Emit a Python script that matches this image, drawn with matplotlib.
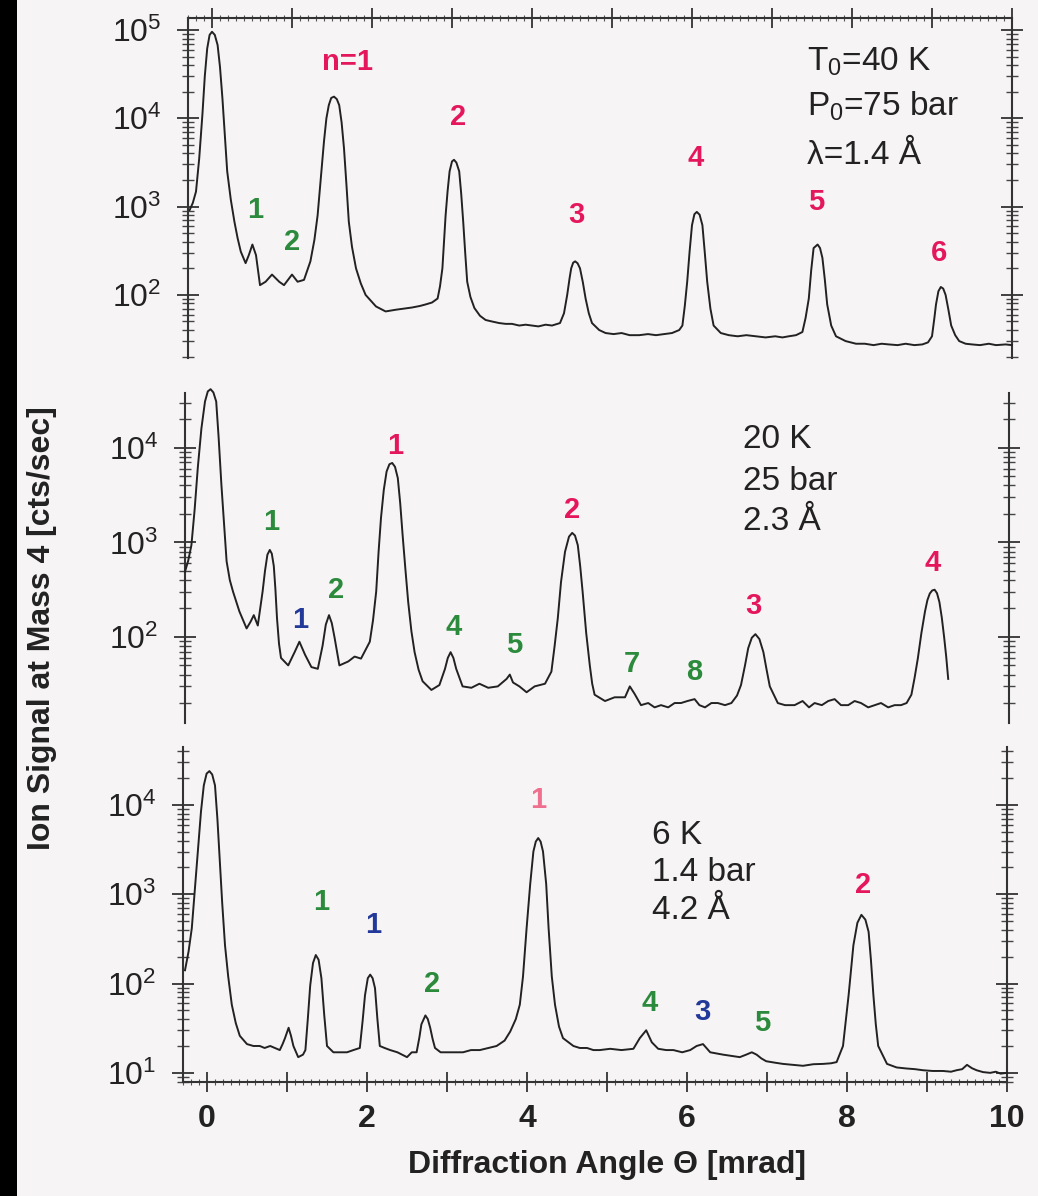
import matplotlib
matplotlib.use("Agg")
import matplotlib.pyplot as plt
import numpy as np
from matplotlib.ticker import LogLocator, NullFormatter, MultipleLocator, FuncFormatter
from matplotlib.patches import Rectangle

plt.rcParams['font.family'] = ['Liberation Sans', 'DejaVu Sans']
plt.rcParams['mathtext.fontset'] = 'custom'
plt.rcParams['mathtext.rm'] = 'Liberation Sans'
plt.rcParams['mathtext.it'] = 'Liberation Sans:italic'
plt.rcParams['mathtext.bf'] = 'Liberation Sans:bold'

# ---- data: (angle [mrad], signal [cts/sec]) ----
top_points = [
    (-0.28, 912), (-0.24, 1100), (-0.20, 1480), (-0.16, 3500), (-0.12, 11000),
    (-0.09, 30000), (-0.06, 61700), (-0.03, 88000), (0.0, 95500), (0.035, 88000),
    (0.07, 67600), (0.10, 38000), (0.13, 17000), (0.16, 6500), (0.19, 2510),
    (0.235, 1200), (0.28, 676), (0.32, 440), (0.36, 309), (0.42, 229),
    (0.46, 282), (0.505, 372), (0.55, 282), (0.60, 129), (0.67, 141),
    (0.75, 170), (0.84, 141), (0.90, 129), (1.00, 170), (1.07, 141),
    (1.15, 148), (1.23, 240), (1.28, 420), (1.32, 794), (1.36, 2100),
    (1.40, 5500), (1.43, 10000), (1.46, 14100), (1.49, 17000), (1.525, 17600),
    (1.56, 16500), (1.59, 14100), (1.62, 9000), (1.65, 4570), (1.68, 1800),
    (1.71, 676), (1.75, 350), (1.80, 200), (1.86, 135), (1.92, 100), (2.05, 74),
    (2.17, 65), (2.30, 68), (2.40, 70), (2.50, 72), (2.60, 75), (2.67, 78),
    (2.75, 82), (2.82, 91), (2.85, 125), (2.88, 200), (2.90, 400), (2.92, 794),
    (2.945, 1500), (2.97, 2510), (3.00, 3250), (3.025, 3390), (3.055, 3150),
    (3.09, 2510), (3.115, 1400), (3.14, 676), (3.165, 300), (3.19, 141),
    (3.23, 95), (3.28, 71), (3.35, 58), (3.42, 52), (3.50, 50), (3.59, 48),
    (3.67, 47), (3.75, 47), (3.84, 45), (3.92, 46), (4.0, 45), (4.08, 44),
    (4.17, 46), (4.25, 45), (4.35, 48), (4.40, 62), (4.44, 100), (4.47, 155),
    (4.49, 200), (4.515, 232), (4.54, 240), (4.57, 228), (4.60, 200),
    (4.635, 140), (4.67, 91), (4.71, 62), (4.75, 48), (4.84, 40), (4.92, 37),
    (5.02, 36), (5.12, 37), (5.22, 35), (5.34, 35), (5.45, 36), (5.55, 35),
    (5.65, 36), (5.75, 37), (5.84, 40), (5.88, 45), (5.91, 75), (5.94, 141),
    (5.97, 310), (6.0, 617), (6.03, 820), (6.06, 871), (6.095, 810),
    (6.13, 617), (6.16, 300), (6.19, 141), (6.23, 70), (6.27, 45), (6.36, 37),
    (6.46, 35), (6.57, 34), (6.68, 35), (6.80, 34), (6.92, 33), (7.04, 34),
    (7.13, 33), (7.21, 34), (7.30, 35), (7.38, 38), (7.42, 55), (7.46, 91),
    (7.49, 190), (7.52, 339), (7.57, 372), (7.60, 340), (7.63, 263),
    (7.66, 150), (7.69, 78), (7.74, 45), (7.80, 34), (7.92, 30), (8.05, 28),
    (8.16, 28), (8.27, 27), (8.37, 28), (8.46, 27.5), (8.57, 27), (8.67, 28),
    (8.78, 27), (8.88, 27.5), (8.95, 29), (9.0, 34), (9.03, 55), (9.05, 78),
    (9.08, 110), (9.11, 123), (9.14, 118), (9.17, 100), (9.205, 68), (9.24, 45),
    (9.29, 35), (9.34, 30), (9.42, 28), (9.50, 27.5), (9.60, 27), (9.71, 28),
    (9.80, 27), (9.92, 27.5), (10.0, 27),
]

mid_points = [
    (-0.30, 490), (-0.26, 640), (-0.22, 933), (-0.18, 2200), (-0.14, 6170),
    (-0.095, 16000), (-0.05, 30900), (-0.015, 39500), (0.02, 41700),
    (0.055, 38500), (0.09, 30900), (0.12, 13000), (0.155, 4070), (0.19, 1500),
    (0.22, 631), (0.26, 400), (0.30, 302), (0.38, 186), (0.47, 123),
    (0.52, 145), (0.56, 170), (0.61, 132), (0.67, 302), (0.70, 500),
    (0.73, 741), (0.76, 832), (0.785, 760), (0.81, 562), (0.83, 320),
    (0.85, 158), (0.875, 85), (0.90, 60), (0.99, 50), (1.07, 69), (1.13, 89),
    (1.20, 65), (1.28, 48), (1.36, 46), (1.42, 81), (1.46, 135), (1.50, 170),
    (1.535, 140), (1.57, 98), (1.63, 50), (1.74, 55), (1.82, 62), (1.90, 59),
    (2.01, 89), (2.05, 150), (2.09, 302), (2.12, 800), (2.15, 1820),
    (2.185, 3600), (2.22, 5620), (2.255, 6700), (2.29, 6920), (2.325, 6300),
    (2.36, 4790), (2.39, 2600), (2.42, 1200), (2.455, 520), (2.49, 234),
    (2.53, 115), (2.57, 69), (2.62, 45), (2.67, 34), (2.78, 27.5), (2.88, 31),
    (2.95, 46), (2.985, 60), (3.02, 69), (3.055, 60), (3.09, 46), (3.17, 30),
    (3.28, 29), (3.38, 32), (3.49, 29), (3.61, 30), (3.72, 36), (3.76, 40),
    (3.80, 33), (3.88, 30), (3.97, 26), (4.07, 30), (4.20, 32), (4.28, 43),
    (4.32, 80), (4.36, 158), (4.40, 380), (4.45, 794), (4.50, 1150),
    (4.54, 1260), (4.575, 1180), (4.61, 933), (4.64, 560), (4.67, 302),
    (4.715, 110), (4.76, 50), (4.79, 32), (4.82, 24.5), (4.95, 21), (5.07, 23),
    (5.20, 23), (5.26, 30), (5.32, 25), (5.40, 19), (5.49, 20), (5.57, 18),
    (5.65, 19), (5.74, 18), (5.82, 20), (5.90, 20), (5.98, 21), (6.07, 22),
    (6.13, 19), (6.20, 18), (6.28, 20), (6.36, 20), (6.45, 19), (6.53, 20),
    (6.60, 24), (6.65, 31), (6.70, 50), (6.74, 76), (6.785, 98), (6.83, 107),
    (6.88, 95), (6.93, 69), (6.97, 45), (7.01, 30), (7.11, 20), (7.20, 19),
    (7.32, 19), (7.42, 21), (7.50, 18), (7.57, 20), (7.66, 19), (7.74, 21),
    (7.82, 22), (7.90, 19), (7.99, 19), (8.07, 21), (8.15, 20), (8.24, 18),
    (8.32, 19), (8.40, 20), (8.49, 18), (8.57, 19), (8.65, 19), (8.72, 20),
    (8.78, 24.5), (8.82, 37), (8.86, 59), (8.905, 110), (8.95, 186),
    (8.98, 245), (9.01, 288), (9.04, 310), (9.07, 316), (9.10, 290),
    (9.13, 234), (9.16, 160), (9.19, 98), (9.215, 62), (9.24, 36),
]

bot_points = [
    (-0.275, 141), (-0.23, 230), (-0.19, 417), (-0.15, 1200), (-0.11, 3550),
    (-0.075, 8500), (-0.04, 16600), (-0.005, 22500), (0.03, 24000),
    (0.065, 22000), (0.10, 16600), (0.13, 7000), (0.16, 2340), (0.19, 800),
    (0.225, 269), (0.265, 120), (0.31, 58), (0.36, 36), (0.41, 26), (0.50, 21),
    (0.58, 20), (0.66, 20), (0.72, 19), (0.79, 20), (0.85, 19), (0.91, 18),
    (0.945, 21), (0.975, 24.5), (1.02, 32), (1.05, 26), (1.08, 20), (1.14, 15),
    (1.20, 16), (1.23, 18), (1.26, 40), (1.29, 95), (1.325, 170), (1.36, 209),
    (1.395, 185), (1.43, 115), (1.465, 45), (1.50, 20), (1.58, 17), (1.66, 17),
    (1.75, 17), (1.83, 18), (1.91, 19), (1.945, 38), (1.975, 74), (2.01, 115),
    (2.04, 126), (2.07, 115), (2.10, 89), (2.13, 40), (2.16, 20), (2.22, 19),
    (2.29, 18), (2.38, 17), (2.50, 15), (2.56, 17), (2.62, 17), (2.655, 25),
    (2.68, 35), (2.73, 44), (2.76, 40), (2.79, 32), (2.82, 24), (2.85, 19),
    (2.92, 17), (2.99, 17), (3.10, 17), (3.20, 17), (3.30, 18), (3.41, 18),
    (3.52, 19), (3.62, 20), (3.72, 23), (3.79, 29), (3.86, 40), (3.91, 58),
    (3.95, 120), (3.995, 417), (4.04, 1300), (4.08, 3020), (4.11, 3900),
    (4.14, 4270), (4.17, 3900), (4.20, 3020), (4.24, 1300), (4.27, 417),
    (4.31, 120), (4.35, 58), (4.40, 33), (4.45, 24.5), (4.58, 20), (4.66, 19),
    (4.75, 19), (4.83, 18), (4.91, 18), (5.04, 18.6), (5.18, 18), (5.33, 18.6),
    (5.41, 24.5), (5.49, 30), (5.56, 22), (5.64, 18.6), (5.74, 18), (5.83, 18),
    (5.94, 17), (6.04, 18), (6.12, 20), (6.20, 21), (6.29, 17), (6.37, 16.5),
    (6.45, 16), (6.55, 15.5), (6.66, 15), (6.74, 16), (6.81, 17), (6.87, 16),
    (6.93, 14.5), (6.99, 13.5), (7.10, 13), (7.20, 12.6), (7.33, 12.3),
    (7.45, 12), (7.58, 12.5), (7.70, 12.6), (7.80, 12.8), (7.87, 13.2),
    (7.95, 20), (8.02, 74), (8.08, 269), (8.13, 480), (8.18, 589), (8.23, 520),
    (8.27, 380), (8.30, 180), (8.33, 74), (8.36, 35), (8.39, 20), (8.50, 12.6),
    (8.62, 11.5), (8.74, 11.2), (8.85, 11), (8.95, 10.7), (9.07, 10.5),
    (9.20, 10.5), (9.30, 10.3), (9.37, 10.7), (9.44, 11), (9.50, 12.3),
    (9.56, 11.3), (9.62, 10.7), (9.70, 10.2), (9.79, 10), (9.86, 10.3),
    (9.92, 9.8), (10.0, 10),
]

# peak labels: (text, x, y, colour key)
top_labels = [("n=1", 1.69, 43700, "r"), ("1", 0.54, 912, "g"), ("2", 1.0, 398, "g"),
              ("2", 3.07, 10300, "r"), ("3", 4.55, 794, "r"), ("4", 6.05, 3550, "r"),
              ("5", 7.55, 1120, "r"), ("6", 9.09, 295, "r")]
mid_labels = [("1", 0.78, 1660, "g"), ("1", 1.14, 151, "b"), ("2", 1.59, 316, "g"),
              ("1", 2.33, 10500, "r"), ("4", 3.06, 128, "g"), ("5", 3.81, 83, "g"),
              ("2", 4.54, 2190, "r"), ("7", 5.28, 52, "g"), ("8", 6.06, 43, "g"),
              ("3", 6.81, 214, "r"), ("4", 9.04, 603, "r")]
bot_labels = [("1", 1.43, 813, "g"), ("1", 2.08, 457, "b"), ("2", 2.81, 100, "g"),
              ("1", 4.14, 11400, "p"), ("4", 5.53, 60, "g"), ("3", 6.19, 48, "b"),
              ("5", 6.94, 36, "g"), ("2", 8.20, 1260, "r")]

top_cond = ["T$_{\\mathregular{0}}$=40 K", "P$_{\\mathregular{0}}$=75 bar", "λ=1.4 Å"]
mid_cond = ["20 K", "25 bar", "2.3 Å"]
bot_cond = ["6 K", "1.4 bar", "4.2 Å"]

colours = {"r": "#e4175c", "g": "#2b8a3c", "b": "#22399a", "p": "#ef6f8e"}
bg = "#f7f4f5"
ink = "#222222"

W, H = 1038, 1196
fig = plt.figure(figsize=(W / 100, H / 100), dpi=100, facecolor=bg)
fig.patches.append(Rectangle((0, 0), 17 / W, 1, transform=fig.transFigure,
                             facecolor="black", edgecolor="none", zorder=0))


def make_axes(y_top, y_bot, ylim, shift):
    ax = fig.add_axes([(183 + shift) / W, 1 - y_bot / H, (1007 - 183) / W,
                       (y_bot - y_top) / H])
    ax.set_facecolor("none")
    ax.set_yscale("log")
    ax.set_xlim(-0.3, 10.0)
    ax.set_ylim(*ylim)
    for side in ["left", "right", "top", "bottom"]:
        ax.spines[side].set_color("#333333")
        ax.spines[side].set_linewidth(1.5)
    ax.spines["top"].set_visible(False)
    ax.spines["bottom"].set_visible(False)
    ax.yaxis.set_major_locator(LogLocator(base=10, numticks=10))
    ax.yaxis.set_minor_locator(LogLocator(base=10, subs=np.arange(2, 10), numticks=20))
    ax.yaxis.set_minor_formatter(NullFormatter())
    ax.tick_params(axis="y", which="major", direction="inout", length=16, width=1.3,
                   left=True, right=True, labelsize=23, pad=11, colors="#333333",
                   labelcolor="#222222")
    ax.tick_params(axis="y", which="minor", direction="inout", length=8, width=1.0,
                   left=True, right=True, colors="#444444")
    ax.xaxis.set_major_locator(MultipleLocator(1))
    ax.xaxis.set_minor_locator(MultipleLocator(0.1))
    ax.tick_params(axis="x", which="both", bottom=False, top=False,
                   labelbottom=False, labeltop=False)
    return ax


ax_top = make_axes(18, 358, (19.3, 136800), 5)
ax_mid = make_axes(393, 723, (12.3, 38000), 2)
ax_bot = make_axes(747, 1082, (7.9, 44700), 0)

ax_top.spines["top"].set_visible(True)
ax_top.tick_params(axis="x", which="major", top=True, direction="inout", length=14,
                   width=1.3, colors="#333333")
ax_top.tick_params(axis="x", which="minor", top=True, direction="inout", length=4,
                   width=0.8, colors="#555555")

ax_bot.spines["bottom"].set_visible(True)
ax_bot.tick_params(axis="x", which="major", bottom=True, labelbottom=True,
                   direction="inout", length=14, width=1.3, colors="#333333",
                   labelcolor="#222222", labelsize=23, pad=9)
ax_bot.tick_params(axis="x", which="minor", bottom=True, direction="inout", length=4,
                   width=0.8, colors="#555555")
ax_bot.xaxis.set_major_formatter(FuncFormatter(
    lambda v, p: f"{v:.0f}" if round(v) % 2 == 0 else ""))

panels = [(ax_top, top_points, top_labels, top_cond, 7.44, [43700, 13800, 3800]),
          (ax_mid, mid_points, mid_labels, mid_cond, 6.68, [12300, 4400, 1660]),
          (ax_bot, bot_points, bot_labels, bot_cond, 5.56, [4600, 1760, 660])]

for ax, pts, labels, cond, cx, cy in panels:
    arr = np.array(pts)
    ax.plot(arr[:, 0], arr[:, 1], color=ink, lw=1.4, clip_on=False, zorder=3)
    for txt, x, y, c in labels:
        ax.text(x, y, txt, color=colours[c], fontsize=21, fontweight="bold",
                ha="center", va="center", zorder=4)
    for txt, y in zip(cond, cy):
        ax.text(cx, y, txt, color=ink, fontsize=24, ha="left", va="center", zorder=4)

for lab in ax_bot.get_xticklabels():
    lab.set_fontweight("bold")

fig.text(42 / W, 1 - 628 / H, "Ion Signal at Mass 4 [cts/sec]", rotation=90,
         ha="center", va="center", fontsize=23, fontweight="bold", color=ink)
fig.text(607 / W, 1 - 1165 / H, "Diffraction Angle Θ [mrad]",
         ha="center", va="center", fontsize=23, fontweight="bold", color=ink)

fig.savefig("out.png", dpi=100, facecolor=bg)
